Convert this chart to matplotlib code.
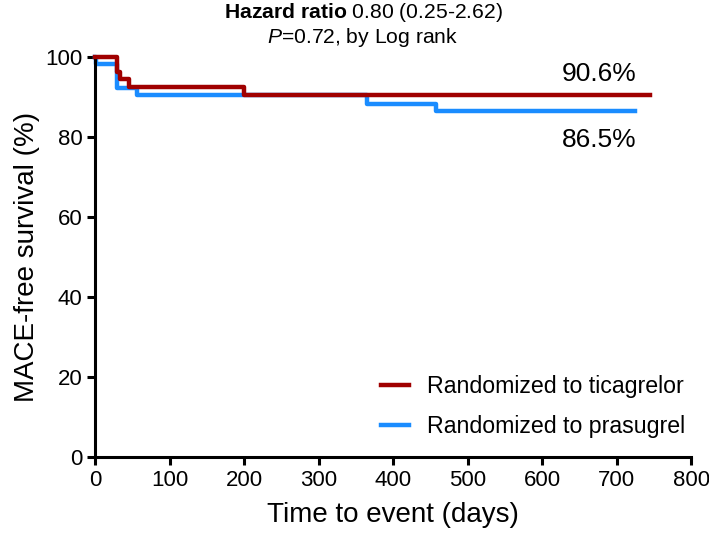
import matplotlib
matplotlib.use("Agg")
import matplotlib.pyplot as plt

plt.rcParams["font.family"] = ["Liberation Sans", "DejaVu Sans"]
plt.rcParams["mathtext.fontset"] = "custom"
plt.rcParams["mathtext.rm"] = "Liberation Sans"
plt.rcParams["mathtext.it"] = "Liberation Sans:italic"
plt.rcParams["mathtext.bf"] = "Liberation Sans:bold"

# Kaplan-Meier step data (days, survival %)
tica_days = [0, 29, 34, 46, 200, 745]
tica_surv = [100, 96.2, 94.5, 92.5, 90.6, 90.6]
pras_days = [0, 1, 29, 57, 365, 458, 725]
pras_surv = [100, 98.3, 92.2, 90.6, 88.4, 86.5, 86.5]

x_ticks = [0, 100, 200, 300, 400, 500, 600, 700, 800]
y_ticks = [0, 20, 40, 60, 80, 100]

RED = "#A00000"
BLUE = "#1A8CFF"

fig = plt.figure(figsize=(7.09, 5.39), dpi=100)
ax = fig.add_axes([0.134, 0.152, 0.841, 0.742])

ax.step(tica_days, tica_surv, where="post", color=RED, lw=3.2,
        label="Randomized to ticagrelor", clip_on=False, zorder=3)
ax.step(pras_days, pras_surv, where="post", color=BLUE, lw=3.2,
        label="Randomized to prasugrel", clip_on=False, zorder=2)

ax.set_xlim(0, 800)
ax.set_ylim(0, 100)
ax.set_xticks(x_ticks)
ax.set_yticks(y_ticks)
for s in ["top", "right"]:
    ax.spines[s].set_visible(False)
for s in ["left", "bottom"]:
    ax.spines[s].set_linewidth(2.2)
ax.tick_params(direction="out", length=6, width=2.2, labelsize=16, pad=3)

ax.set_xlabel("Time to event (days)", fontsize=20, labelpad=8)
ax.set_ylabel("MACE-free survival (%)", fontsize=20, labelpad=4)

ax.text(727, 95.7, "90.6%", ha="right", va="center", fontsize=19)
ax.text(727, 79.2, "86.5%", ha="right", va="center", fontsize=19)

fig.text(0.512, 0.977, r"$\mathbf{Hazard\ ratio}$ 0.80 (0.25-2.62)", ha="center",
         va="center", fontsize=15.2)
fig.text(0.512, 0.931, r"$\mathit{P}$=0.72, by Log rank", ha="center",
         va="center", fontsize=15.2)

ax.legend(loc="lower right", bbox_to_anchor=(1.025, -0.005), frameon=False,
          fontsize=16.7, handlelength=1.2, handletextpad=0.8, labelspacing=0.75)

fig.savefig("out.png", dpi=100)
